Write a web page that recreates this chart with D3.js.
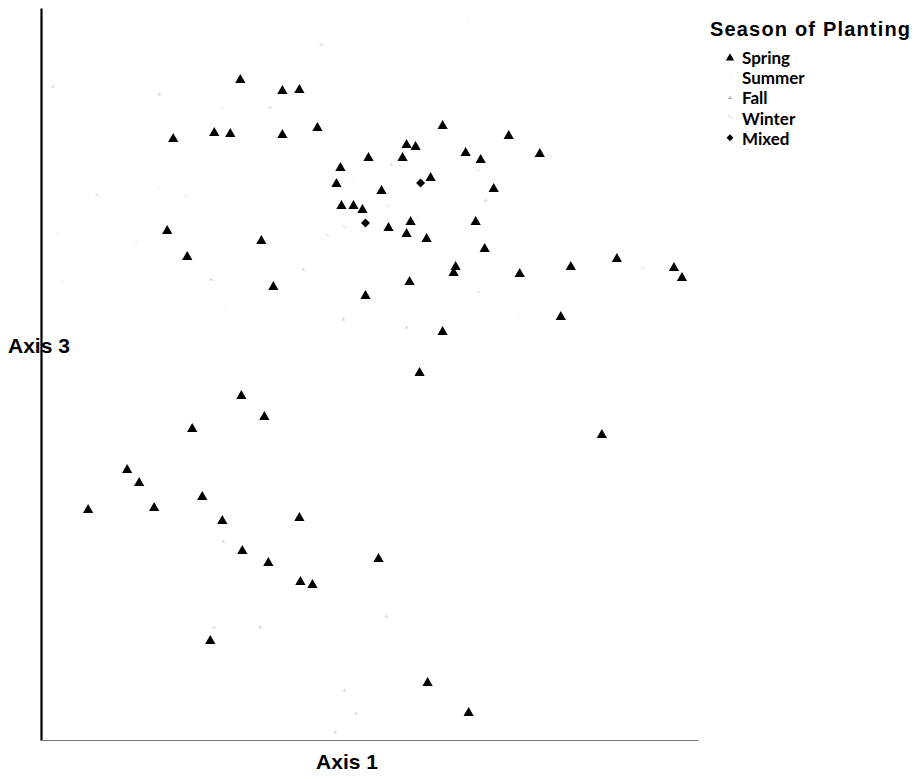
<!DOCTYPE html>
<html>
<head>
<meta charset="utf-8">
<script src="https://cdn.jsdelivr.net/npm/d3@7"></script>
<style>
  html, body { margin: 0; padding: 0; background: #fff; }
  svg { display: block; }
</style>
</head>
<body>
<svg id="chart" width="916" height="779"></svg>
<script>
// Ordination scores (Axis 1, Axis 3) grouped by season of planting
const springX = [2.00,2.42,2.59,1.33,1.74,1.90,2.42,2.77,4.02,4.68,4.99,4.25,4.40,3.66,3.75,3.62,3.28,3.00,2.96,3.41,
                 3.90,4.53,3.01,3.13,3.22,3.70,3.48,3.66,3.86,4.35,4.44,4.15,4.13,4.79,5.30,5.76,6.33,6.41,3.69,3.25,
                 4.02,5.20,1.27,1.47,2.21,2.33,3.79,5.61,2.01,2.24,1.52,0.87,0.99,0.48,1.14,1.62,1.82,2.59,2.02,2.28,
                 3.38,2.60,2.72,1.70,3.87,4.28];
const springY = [6.60,6.49,6.50,6.01,6.07,6.06,6.05,6.12,6.14,6.04,5.86,5.87,5.80,5.95,5.93,5.82,5.82,5.72,5.56,5.49,
                 5.62,5.51,5.34,5.34,5.30,5.18,5.12,5.06,5.01,5.18,4.91,4.73,4.67,4.66,4.73,4.81,4.72,4.62,4.58,4.44,
                 4.08,4.23,5.09,4.83,4.99,4.53,3.67,3.05,3.44,3.23,3.11,2.70,2.57,2.30,2.32,2.43,2.19,2.22,1.89,1.77,
                 1.81,1.58,1.55,0.99,0.57,0.27];

const summerX = [1.18,0.95,0.18,0.22,1.85,3.37,3.11,4.78,4.28,1.81,3.77,3.67];
const summerY = [5.52,4.98,5.05,4.57,4.32,5.50,5.59,4.21,7.17,6.32,5.22,6.03];

const fallX = [0.13,1.19,2.81,3.03,3.66,4.45,1.83,2.20,3.04,3.15,2.95,3.46,1.74,2.30,3.51,2.63,1.71];
const fallY = [6.54,6.46,6.96,4.21,4.13,5.40,1.99,1.13,0.50,0.27,0.08,1.24,1.13,6.33,5.76,4.71,4.61];

const winterX = [0.57,6.02,4.38,2.87,3.04,4.37,1.46,3.47];
const winterY = [5.45,4.72,4.48,5.05,5.13,5.70,5.44,5.34];

const mixedX = [3.80,3.25];
const mixedY = [5.57,5.17];

const seasons = ["Spring", "Summer", "Fall", "Winter", "Mixed"];
const legendTitle = "Season of Planting";
const xTitle = "Axis 1";
const yTitle = "Axis 3";

const svg = d3.select("#chart");
const plot = { left: 41, right: 698, top: 8, bottom: 740 };

const x = d3.scaleLinear().domain([0, 6.57]).range([plot.left - 1, plot.right]);
const y = d3.scaleLinear().domain([0, 7.32]).range([plot.bottom, plot.top]);

const zip = (xs, ys) => xs.map((v, i) => [v, ys[i]]);

// Small, pale marker shapes for the sparse seasons
const summerPath = "M-1.5,-1.5L-0.8,-0.8M0.8,0.8L1.5,1.5M1.5,-1.5L0.8,-0.8";
const fallPath = "M-2,1H2M0,1V-1.5";
const winterPath = "M-1.5,-1.5L1.5,1.5";

const faint = svg.append("g").attr("fill", "none").attr("stroke-width", 0.7);

faint.selectAll("path.summer").data(zip(summerX, summerY)).join("path")
  .attr("class", "summer")
  .attr("d", summerPath)
  .attr("stroke", "#cfcfcf")
  .attr("transform", d => `translate(${x(d[0])},${y(d[1])})`);

faint.selectAll("path.fall").data(zip(fallX, fallY)).join("path")
  .attr("class", "fall")
  .attr("d", fallPath)
  .attr("stroke", "#c4c4c4")
  .attr("transform", d => `translate(${x(d[0])},${y(d[1])})`);

faint.selectAll("path.winter").data(zip(winterX, winterY)).join("path")
  .attr("class", "winter")
  .attr("d", winterPath)
  .attr("stroke", "#b8b8b8")
  .attr("transform", d => `translate(${x(d[0])},${y(d[1])})`);

// Spring triangles
const tri = d3.symbol().type(d3.symbolTriangle).size(46);
svg.append("g").selectAll("path").data(zip(springX, springY)).join("path")
  .attr("d", tri)
  .attr("fill", "#000")
  .attr("transform", d => `translate(${x(d[0])},${y(d[1])})`);

// Mixed diamonds
const dia = d3.symbol().type(d3.symbolSquare).size(40);
svg.append("g").selectAll("path").data(zip(mixedX, mixedY)).join("path")
  .attr("d", dia)
  .attr("fill", "#000")
  .attr("transform", d => `translate(${x(d[0])},${y(d[1])}) rotate(45)`);

// Axis titles
svg.append("text")
  .attr("x", 8).attr("y", 353)
  .attr("font-family", "'Liberation Sans', Arial, sans-serif")
  .attr("font-weight", "bold").attr("font-size", 21)
  .attr("fill", "#000")
  .text(yTitle);

svg.append("text")
  .attr("x", 347).attr("y", 769)
  .attr("text-anchor", "middle")
  .attr("font-family", "'Liberation Sans', Arial, sans-serif")
  .attr("font-weight", "bold").attr("font-size", 21)
  .attr("fill", "#000")
  .text(xTitle);

// Axis lines (no ticks)
const yAxis = d3.axisLeft(y).tickValues([]).tickSizeOuter(0);
svg.append("g").attr("transform", `translate(${plot.left},0)`).call(yAxis)
  .select(".domain").attr("stroke", "#000").attr("stroke-width", 2.2);

const xAxis = d3.axisBottom(x).tickValues([]).tickSizeOuter(0);
svg.append("g").attr("transform", `translate(0,${plot.bottom})`).call(xAxis)
  .select(".domain").attr("stroke", "#777").attr("stroke-width", 1.2);

// Legend
const legend = svg.append("g");
legend.append("text")
  .attr("x", 710).attr("y", 36)
  .attr("font-family", "'Liberation Sans', Arial, sans-serif")
  .attr("font-weight", "bold").attr("font-size", 20)
  .attr("textLength", 200).attr("lengthAdjust", "spacing")
  .attr("fill", "#000")
  .text(legendTitle);

const rowY = i => 64 + i * 20.2;
const legendMark = [
  g => g.append("path").attr("d", d3.symbol().type(d3.symbolTriangle).size(30)).attr("fill", "#000").attr("transform", "translate(0,-1)"),
  g => g.append("path").attr("d", summerPath).attr("fill", "none").attr("stroke", "#bdbdbd").attr("stroke-width", 0.8).attr("transform", "translate(0,-2)"),
  g => g.append("path").attr("d", fallPath).attr("fill", "none").attr("stroke", "#8a8a8a").attr("stroke-width", 0.8).attr("transform", "translate(0,-2)"),
  g => g.append("path").attr("d", winterPath).attr("fill", "none").attr("stroke", "#b0b0b0").attr("stroke-width", 0.8).attr("transform", "translate(0,-3)"),
  g => g.append("path").attr("d", d3.symbol().type(d3.symbolSquare).size(24)).attr("fill", "#000").attr("transform", "translate(0,-2) rotate(45)")
];

seasons.forEach((s, i) => {
  const g = legend.append("g").attr("transform", `translate(0,${rowY(i)})`);
  const m = g.append("g").attr("transform", `translate(730,-5)`);
  legendMark[i](m);
  g.append("text")
    .attr("x", 742).attr("y", 0)
    .attr("font-family", "Lato, 'Open Sans', sans-serif")
    .attr("font-weight", "bold").attr("font-size", 17)
    .attr("fill", "#000")
    .text(s);
});
</script>
</body>
</html>
